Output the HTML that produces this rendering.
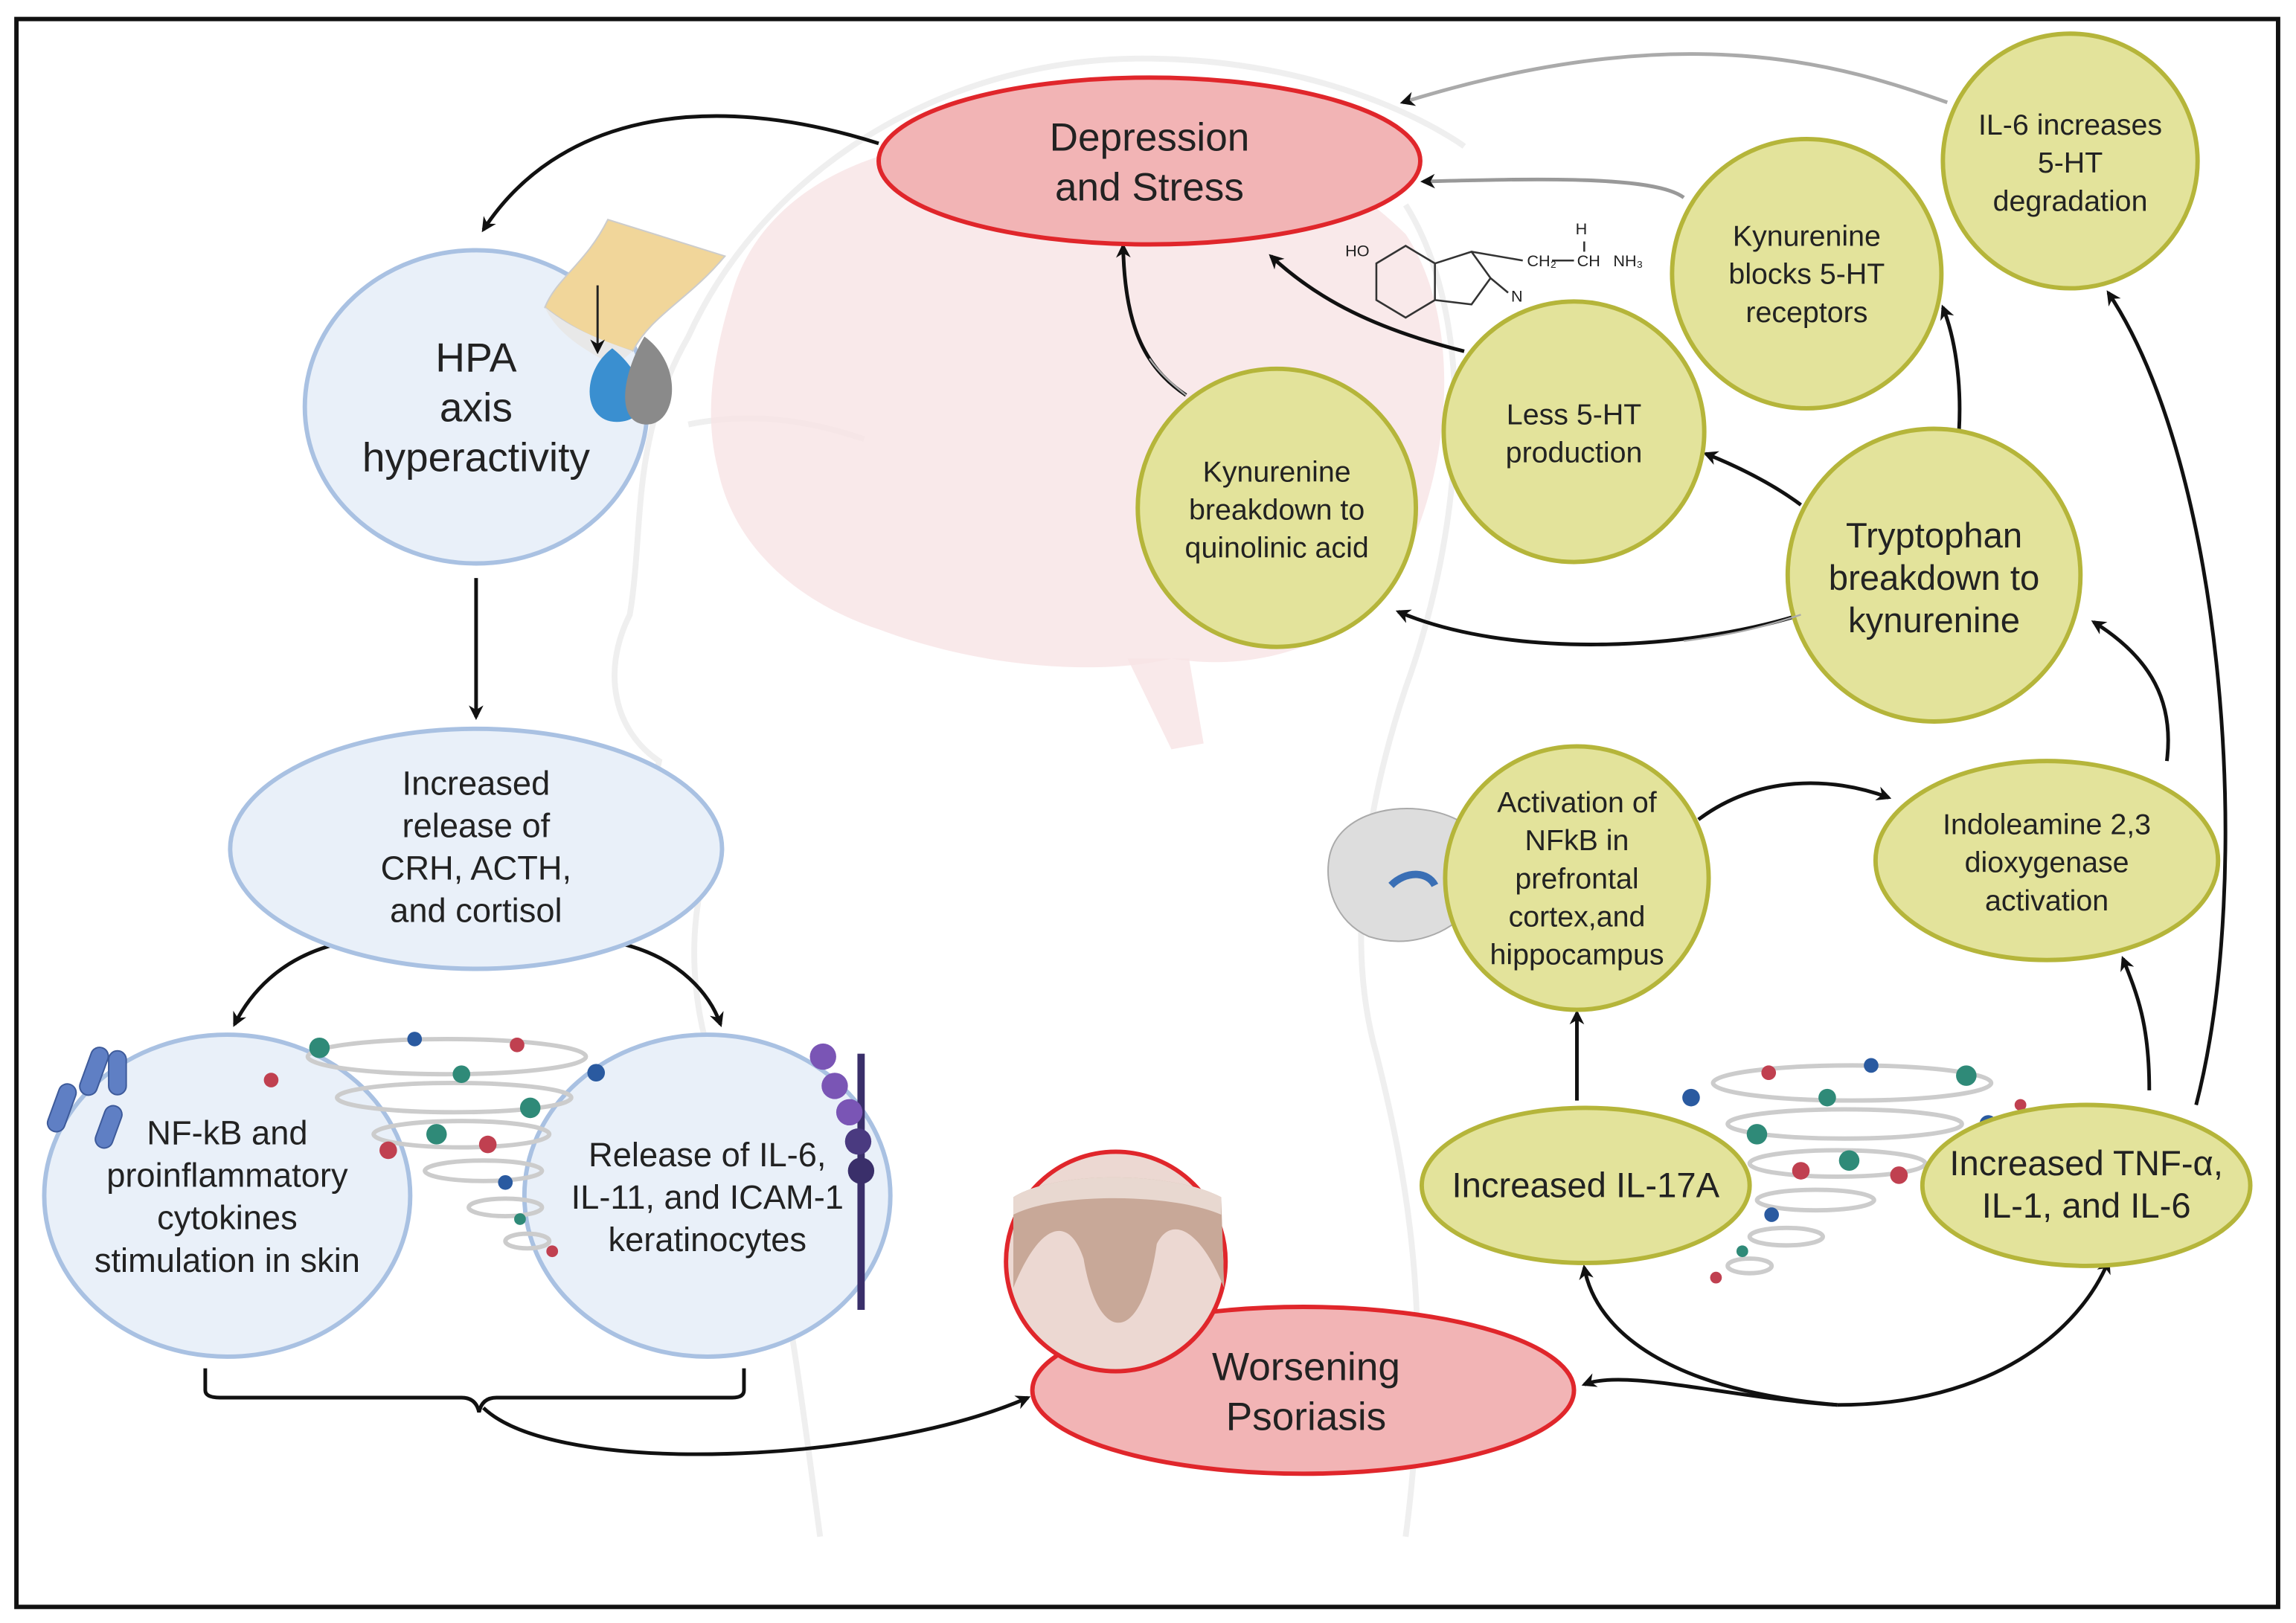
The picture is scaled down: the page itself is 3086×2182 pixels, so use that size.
<!DOCTYPE html>
<html><head><meta charset="utf-8"><style>
html,body{margin:0;padding:0;background:#fff;}
svg{display:block;}
text{font-family:"Liberation Sans",sans-serif;fill:#222;text-anchor:middle;}
</style></head><body>
<svg width="3086" height="2182" viewBox="0 0 1568 1109" xmlns="http://www.w3.org/2000/svg">
<defs>
<marker id="ah" markerWidth="10" markerHeight="10" refX="8" refY="5" orient="auto" markerUnits="userSpaceOnUse">
<path d="M0,0 L10,5 L0,10 L3,5 Z" fill="#111"/></marker>
</defs>
<rect x="0" y="0" width="1568" height="1109" fill="#fff"/>
<rect x="11" y="13" width="1545" height="1085" fill="none" stroke="#111" stroke-width="3"/>
<!-- head silhouette -->
<g fill="none" stroke="#efefef" stroke-width="4">
<path d="M560,1050 C540,900 530,820 500,760 C470,700 470,640 480,600 C455,590 440,560 450,520 C420,500 410,460 430,420 C440,360 430,300 470,230 C520,120 640,40 780,40 C920,40 1000,100 1000,100"/>
<path d="M960,140 C1010,220 1000,360 960,470 C930,560 920,650 940,720 C960,800 980,900 960,1050"/>
<path d="M470,290 C520,280 560,290 590,300"/>
</g>
<!-- brain -->
<path d="M500,200 C520,130 600,90 700,95 C800,70 900,100 960,160 C1000,220 990,320 960,380 C930,440 860,460 800,450 C760,460 680,460 600,430 C540,410 500,370 490,320 C480,280 488,240 500,200 Z" fill="#f7e3e5" opacity="0.8"/>
<path d="M770,450 L800,512 L822,508 L812,450 Z" fill="#f7e3e5" opacity="0.8"/>
<!-- arrows -->
<g fill="none" stroke="#111" stroke-width="2.5" marker-end="url(#ah)">
<path d="M600,98 C480,60 380,80 330,157"/>
<path d="M325,395 L325,490"/>
<path d="M230,645 C190,655 170,680 160,700"/>
<path d="M425,645 C465,655 485,680 492,700"/>
<path d="M330,962 C380,1010 600,1000 702,955"/>
<path d="M1255,960 C1180,955 1110,935 1082,946"/>
<path d="M1255,960 C1140,950 1090,910 1082,866"/>
<path d="M1255,960 C1360,960 1420,910 1440,862"/>
<path d="M1077,752 L1077,692"/>
<path d="M1468,745 C1468,700 1460,680 1450,655"/>
<path d="M1480,520 C1485,480 1470,450 1430,425"/>
<path d="M1500,755 C1540,600 1520,320 1440,200"/>
<path d="M1160,560 C1200,530 1250,530 1290,545"/>
<path d="M1230,345 C1210,330 1185,318 1165,310"/>
<path d="M1230,420 C1150,445 1030,450 955,418"/>
<path d="M1338,295 C1340,260 1335,230 1327,210"/>
<path d="M810,270 C780,250 768,220 767,168"/>
<path d="M1000,240 C940,225 900,205 868,175"/>
<path d="M1150,135 C1130,120 1050,122 972,124" stroke="#999"/>
<path d="M1330,70 C1260,45 1150,10 958,70" stroke="#aaa"/>
</g>
<!-- brain small -->
<path d="M908,585 C915,552 965,545 995,560 L1000,625 C985,640 960,648 935,640 C912,630 904,605 908,585Z" fill="#ddd" stroke="#aaa"/>
<path d="M950,605 C960,595 975,595 980,605" stroke="#3a6fb5" stroke-width="5" fill="none"/>
<!-- blue circles -->
<g fill="#e9f0f9" stroke="#a9c1e2" stroke-width="3">
<ellipse cx="325" cy="278" rx="117" ry="107"/>
<ellipse cx="325" cy="580" rx="168" ry="82"/>
<ellipse cx="155" cy="817" rx="125" ry="110"/>
<ellipse cx="483" cy="817" rx="125" ry="110"/>
</g>
<!-- HPA gland icon (on top) -->
<path d="M372,210 C380,190 400,180 415,150 L495,175 C470,205 445,215 432,240 C415,235 395,228 372,210 Z" fill="#f1d69a" stroke="#ccc" stroke-width="1"/>
<path d="M372,210 C390,225 410,232 432,240 L420,250 C400,240 380,228 372,210Z" fill="#e8e8e8"/>
<path d="M418,238 C395,255 398,292 425,288 C448,284 440,255 418,238Z" fill="#3a8fd0"/>
<path d="M440,230 C468,250 462,292 440,290 C420,288 425,255 440,230Z" fill="#8a8a8a"/>
<path d="M408,195 L408,240" stroke="#222" stroke-width="1.5" marker-end="url(#ah)"/>
<text font-size="28" x="325" y="254">HPA</text>
<text font-size="28" x="325" y="288">axis</text>
<text font-size="28" x="325" y="322">hyperactivity</text>
<text font-size="23" x="325" y="543">Increased</text>
<text font-size="23" x="325" y="572">release of</text>
<text font-size="23" x="325" y="601">CRH, ACTH,</text>
<text font-size="23" x="325" y="630">and cortisol</text>
<text font-size="23" x="155" y="782">NF-kB and</text>
<text font-size="23" x="155" y="811">proinflammatory</text>
<text font-size="23" x="155" y="840">cytokines</text>
<text font-size="23" x="155" y="869">stimulation in skin</text>
<text font-size="23" x="483" y="797">Release of IL-6,</text>
<text font-size="23" x="483" y="826">IL-11, and ICAM-1</text>
<text font-size="23" x="483" y="855">keratinocytes</text>
<!-- receptor icons -->
<g fill="#5f7fc4" stroke="#3d5a9a"><rect x="36" y="740" width="12" height="34" rx="6" transform="rotate(20 42 757)"/><rect x="58" y="715" width="12" height="34" rx="6" transform="rotate(20 64 732)"/><rect x="68" y="755" width="12" height="30" rx="6" transform="rotate(20 74 770)"/><rect x="74" y="718" width="12" height="30" rx="6"/></g>
<line x1="588" y1="720" x2="588" y2="895" stroke="#3a2f6a" stroke-width="5"/>
<g fill="#7a55b5"><circle cx="562" cy="722" r="9"/><circle cx="570" cy="742" r="9"/><circle cx="580" cy="760" r="9"/><circle cx="586" cy="780" r="9" fill="#4a3a80"/><circle cx="588" cy="800" r="9" fill="#3a2f6a"/></g>
<!-- swirls -->
<g fill="none" stroke="#ccc" stroke-width="3">
<ellipse cx="305" cy="722" rx="95" ry="12"/><ellipse cx="310" cy="750" rx="80" ry="10"/><ellipse cx="315" cy="775" rx="60" ry="9"/><ellipse cx="330" cy="800" rx="40" ry="7"/><ellipse cx="345" cy="825" rx="25" ry="6"/><ellipse cx="360" cy="848" rx="15" ry="5"/>
<ellipse cx="1265" cy="740" rx="95" ry="12"/><ellipse cx="1260" cy="768" rx="80" ry="10"/><ellipse cx="1255" cy="795" rx="60" ry="9"/><ellipse cx="1240" cy="820" rx="40" ry="7"/><ellipse cx="1220" cy="845" rx="25" ry="6"/><ellipse cx="1195" cy="865" rx="15" ry="5"/>
</g>
<g><circle cx="218" cy="716" r="7" fill="#2f8a78"/><circle cx="283" cy="710" r="5" fill="#2a5aa0"/><circle cx="353" cy="714" r="5" fill="#c04050"/><circle cx="185" cy="738" r="5" fill="#c04050"/><circle cx="315" cy="734" r="6" fill="#2f8a78"/><circle cx="362" cy="757" r="7" fill="#2f8a78"/><circle cx="298" cy="775" r="7" fill="#2f8a78"/><circle cx="333" cy="782" r="6" fill="#c04050"/><circle cx="265" cy="786" r="6" fill="#c04050"/><circle cx="407" cy="733" r="6" fill="#2a5aa0"/><circle cx="345" cy="808" r="5" fill="#2a5aa0"/><circle cx="355" cy="833" r="4" fill="#2f8a78"/><circle cx="377" cy="855" r="4" fill="#c04050"/>
<circle cx="1343" cy="735" r="7" fill="#2f8a78"/><circle cx="1278" cy="728" r="5" fill="#2a5aa0"/><circle cx="1208" cy="733" r="5" fill="#c04050"/><circle cx="1155" cy="750" r="6" fill="#2a5aa0"/><circle cx="1248" cy="750" r="6" fill="#2f8a78"/><circle cx="1200" cy="775" r="7" fill="#2f8a78"/><circle cx="1263" cy="793" r="7" fill="#2f8a78"/><circle cx="1230" cy="800" r="6" fill="#c04050"/><circle cx="1297" cy="803" r="6" fill="#c04050"/><circle cx="1358" cy="768" r="6" fill="#2a5aa0"/><circle cx="1210" cy="830" r="5" fill="#2a5aa0"/><circle cx="1190" cy="855" r="4" fill="#2f8a78"/><circle cx="1172" cy="873" r="4" fill="#c04050"/><circle cx="1380" cy="755" r="4" fill="#c04050"/></g>
<!-- pink ellipses -->
<g fill="#f2b4b5" stroke="#e0262b" stroke-width="3">
<ellipse cx="785" cy="110" rx="185" ry="57"/>
<ellipse cx="890" cy="950" rx="185" ry="57"/>
</g>
<text font-size="27" x="785" y="103">Depression</text>
<text font-size="27" x="785" y="137">and Stress</text>
<text font-size="27" x="892" y="943">Worsening</text>
<text font-size="27" x="892" y="977">Psoriasis</text>
<!-- skin circle -->
<circle cx="762" cy="862" r="75" fill="#ecd8d2" stroke="#e0262b" stroke-width="3"/>
<path d="M692,818 C720,800 800,800 834,818 L836,880 C820,840 800,830 790,850 C780,920 750,920 740,860 C730,830 710,835 692,880 Z" fill="#c8a898"/>
<path d="M692,818 C720,800 800,800 834,818 L834,830 C800,815 720,815 692,830 Z" fill="#e8d8d0"/>
<!-- serotonin -->
<g stroke="#333" stroke-width="1.3" fill="none"><path d="M940,180 L960,168 L980,180 L980,205 L960,217 L940,205 Z M980,180 L1005,172 L1018,190 L1005,208 L980,205 M1005,172 L1040,178 M1060,178 L1075,178 M1018,190 L1030,200 M1082,165 L1082,172"/></g>
<g font-size="11"><text x="927" y="175">HO</text><text x="1053" y="182">CH₂</text><text x="1085" y="182">CH</text><text x="1080" y="160">H</text><text x="1112" y="182">NH₃</text><text x="1036" y="206">N</text></g>
<!-- yellow -->
<g fill="#e3e39b" stroke="#b5b53a" stroke-width="3">
<circle cx="872" cy="347" r="95"/>
<circle cx="1075" cy="295" r="89"/>
<circle cx="1234" cy="187" r="92"/>
<circle cx="1414" cy="110" r="87"/>
<circle cx="1321" cy="393" r="100"/>
<circle cx="1077" cy="600" r="90"/>
<ellipse cx="1398" cy="588" rx="117" ry="68"/>
<ellipse cx="1083" cy="810" rx="112" ry="53"/>
<ellipse cx="1425" cy="810" rx="112" ry="55"/>
</g>
<!-- faint connectors over circles -->
<g fill="none" stroke="#aaa" stroke-width="1.2">
<path d="M810,270 C800,262 792,255 785,245"/>
<path d="M1230,420 C1200,430 1180,434 1150,438"/>
</g>
<g font-size="20">
<text x="872" y="329">Kynurenine</text><text x="872" y="355">breakdown to</text><text x="872" y="381">quinolinic acid</text>
<text x="1075" y="290">Less 5-HT</text><text x="1075" y="316">production</text>
<text x="1234" y="168">Kynurenine</text><text x="1234" y="194">blocks 5-HT</text><text x="1234" y="220">receptors</text>
<text x="1414" y="92">IL-6 increases</text><text x="1414" y="118">5-HT</text><text x="1414" y="144">degradation</text>
<text x="1077" y="555">Activation of</text><text x="1077" y="581">NFkB in</text><text x="1077" y="607">prefrontal</text><text x="1077" y="633">cortex,and</text><text x="1077" y="659">hippocampus</text>
<text x="1398" y="570">Indoleamine 2,3</text><text x="1398" y="596">dioxygenase</text><text x="1398" y="622">activation</text>
</g>
<g font-size="24">
<text x="1321" y="374">Tryptophan</text><text x="1321" y="403">breakdown to</text><text x="1321" y="432">kynurenine</text>
<text x="1083" y="818">Increased IL-17A</text>
<text x="1425" y="803">Increased TNF-α,</text><text x="1425" y="832">IL-1, and IL-6</text>
</g>
<!-- brace -->
<path d="M140,935 L140,950 Q140,955 150,955 L315,955 Q325,955 327,965 Q329,955 339,955 L500,955 Q508,955 508,950 L508,935" fill="none" stroke="#111" stroke-width="2.5"/>
</svg>
</body></html>
